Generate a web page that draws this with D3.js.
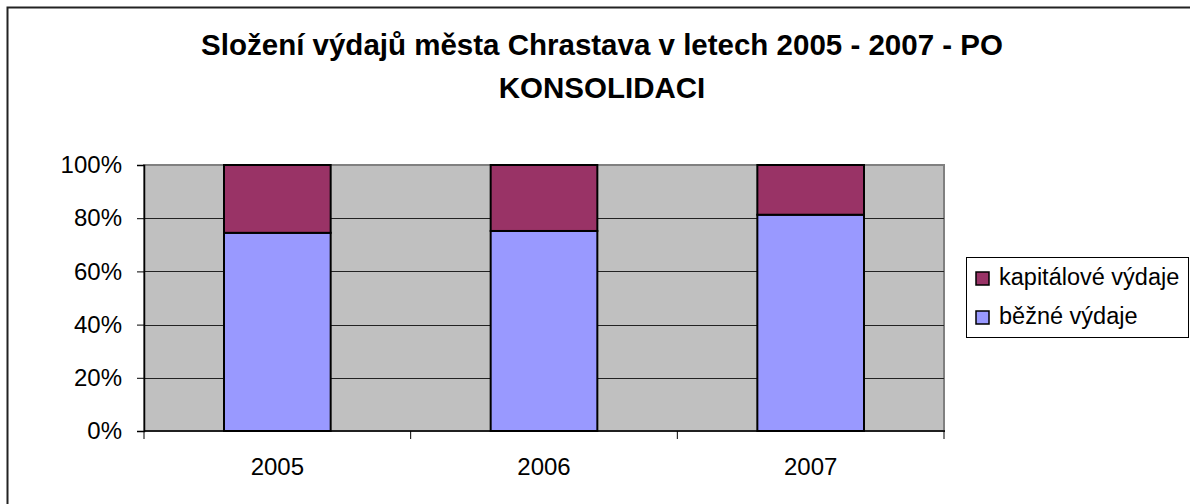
<!DOCTYPE html>
<html>
<head>
<meta charset="utf-8">
<script src="https://cdn.jsdelivr.net/npm/d3@7"></script>
<style>
  body { margin: 0; background: #fff; }
  svg { display: block; font-family: "Liberation Sans", Arial, sans-serif; }
  .tick-lbl { font-size: 24px; fill: #000; }
  .legend-lbl { font-size: 23.5px; fill: #000; }
  .title { font-size: 29.5px; font-weight: bold; fill: #000; }
</style>
</head>
<body>
<svg id="chart"></svg>
<script>
// ── Data (shares in %) ────────────────────────────────────────────────────
const YEARS      = ["2005", "2006", "2007"];
const BEZNE      = [74.5, 75.2, 81.3];  // běžné výdaje
const KAPITALOVE = [25.5, 24.8, 18.7];  // kapitálové výdaje
const Y_TICKS    = [0, 20, 40, 60, 80, 100];
const SERIES = [
  { key: "bezne", label: "běžné výdaje", values: BEZNE, color: "#9999FF" },
  { key: "kap",   label: "kapitálové výdaje", values: KAPITALOVE, color: "#993366" },
];

const VW = 1190, VH = 504;
const P = { left: 144, right: 944, top: 165, bottom: 431 };

const svg = d3.select("#chart").attr("width", VW).attr("height", VH);

// Outer frame (right/bottom edges fall outside the picture)
svg.append("rect")
  .attr("x", 7.5).attr("y", 7.5).attr("width", 1200).attr("height", 520)
  .attr("fill", "none").attr("stroke", "#222").attr("stroke-width", 2);

// Title
const title = svg.append("text").attr("class", "title").attr("text-anchor", "middle");
title.append("tspan").attr("x", 602).attr("y", 55).text("Složení výdajů města Chrastava v letech 2005 - 2007 - PO");
title.append("tspan").attr("x", 602).attr("y", 98).text("KONSOLIDACI");

// Scales
const x = d3.scaleBand().domain(YEARS).range([P.left, P.right])
  .paddingInner(0.6).paddingOuter(0.3);
const xEdge = d3.scaleLinear().domain([0, YEARS.length]).range([P.left, P.right]);
const y = d3.scaleLinear().domain([0, 100]).range([P.bottom, P.top]);

// Plot background
svg.append("rect")
  .attr("x", P.left).attr("y", P.top)
  .attr("width", P.right - P.left).attr("height", P.bottom - P.top)
  .attr("fill", "#C0C0C0").attr("stroke", "#808080").attr("stroke-width", 2);

// Grid lines
svg.append("g").selectAll("line")
  .data(Y_TICKS.filter(d => d > 0 && d < 100))
  .join("line")
  .attr("x1", P.left).attr("x2", P.right)
  .attr("y1", d => Math.round(y(d)) + 0.5).attr("y2", d => Math.round(y(d)) + 0.5)
  .attr("stroke", "#222").attr("stroke-width", 1);

// Stacked bars
const table = YEARS.map((yr, i) => {
  const row = { year: yr };
  SERIES.forEach(s => { row[s.key] = s.values[i]; });
  return row;
});
const stacked = d3.stack().keys(SERIES.map(s => s.key))(table);

svg.append("g").selectAll("g")
  .data(stacked)
  .join("g")
  .attr("fill", (d, i) => SERIES[i].color)
  .selectAll("rect")
  .data(d => d)
  .join("rect")
  .attr("x", d => x(d.data.year))
  .attr("width", x.bandwidth())
  .attr("y", d => y(d[1]))
  .attr("height", d => y(d[0]) - y(d[1]))
  .attr("stroke", "#000").attr("stroke-width", 2);

// Y axis
const yAxis = svg.append("g").attr("transform", `translate(${P.left},0)`)
  .call(d3.axisLeft(y).tickValues(Y_TICKS).tickFormat(d => d + "%").tickSize(7).tickPadding(15));
yAxis.select(".domain").attr("stroke", "#000").attr("stroke-width", 1.5);
yAxis.selectAll(".tick line").attr("stroke", "#000");
yAxis.selectAll(".tick text").attr("class", "tick-lbl").attr("font-family", null).attr("font-size", null);

// X axis: ticks at category boundaries, labels centred in bands
const xAxis = svg.append("g").attr("transform", `translate(0,${P.bottom})`);
xAxis.append("line").attr("x1", P.left).attr("x2", P.right + 1)
  .attr("stroke", "#000").attr("stroke-width", 1.5);
xAxis.selectAll("line.tk")
  .data(d3.range(YEARS.length + 1))
  .join("line").attr("class", "tk")
  .attr("x1", d => xEdge(d)).attr("x2", d => xEdge(d))
  .attr("y1", 0).attr("y2", 8).attr("stroke", "#000");
xAxis.selectAll("text")
  .data(YEARS)
  .join("text").attr("class", "tick-lbl")
  .attr("x", d => x(d) + x.bandwidth() / 2).attr("y", 44)
  .attr("text-anchor", "middle").text(d => d);

// Legend
const leg = svg.append("g").attr("transform", "translate(966,257)");
leg.append("rect").attr("x", 0.5).attr("y", 0.5).attr("width", 222).attr("height", 80)
  .attr("fill", "#fff").attr("stroke", "#000");
[SERIES[1], SERIES[0]].forEach((s, i) => {
  const row = leg.append("g").attr("transform", `translate(10,${15 + i * 39})`);
  row.append("rect").attr("width", 13).attr("height", 13)
    .attr("fill", s.color).attr("stroke", "#000").attr("stroke-width", 1.5);
  row.append("text").attr("class", "legend-lbl").attr("x", 23).attr("y", 13).text(s.label);
});
</script>
</body>
</html>
